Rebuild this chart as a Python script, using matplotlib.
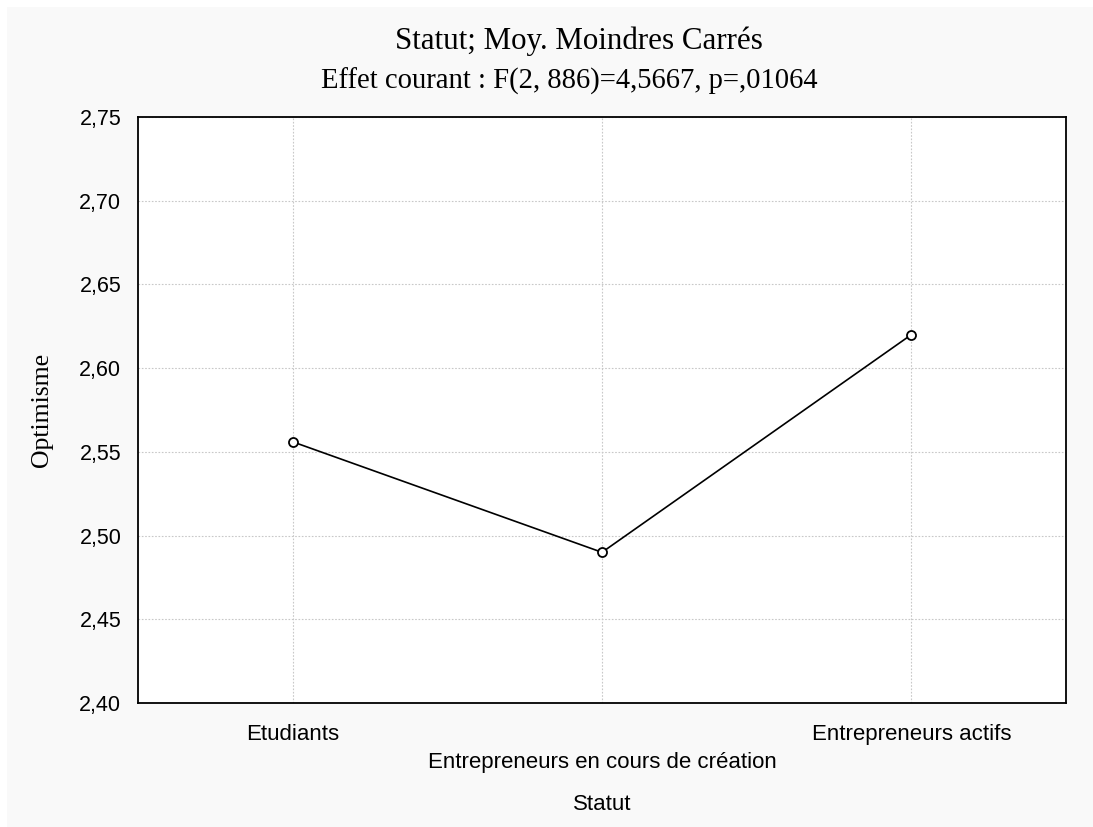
import matplotlib.pyplot as plt
from matplotlib.patches import Rectangle

# Données
categories = ['Etudiants', 'Entrepreneurs en cours de création', 'Entrepreneurs actifs']
moyennes = [2.556, 2.490, 2.620]
yticks = [2.40, 2.45, 2.50, 2.55, 2.60, 2.65, 2.70, 2.75]

fig = plt.figure(figsize=(10.93, 8.27), dpi=100, facecolor='white')
# fond gris clair avec une bordure blanche en haut et à gauche
fig.patches.append(Rectangle((7 / 1093, 0), 1, 1 - 7 / 827, transform=fig.transFigure,
                             facecolor='#f9f9f9', edgecolor='none', zorder=-10))

ax = fig.add_axes([138 / 1093, 1 - 703 / 827, (1066 - 138) / 1093, (703 - 117) / 827])
ax.set_facecolor('white')

x = list(range(len(categories)))
ax.plot(x, moyennes, color='black', lw=1.2, marker='o', ms=6.5,
        mfc='white', mec='black', mew=1.3, zorder=3)

ax.set_xlim(-0.5, 2.5)
ax.set_ylim(2.40, 2.75)
ax.set_yticks(yticks)
ax.set_yticklabels([f'{v:.2f}'.replace('.', ',') for v in yticks],
                   family='Liberation Sans', fontsize=15.5)
ax.set_xticks(x)
ax.set_xticklabels(categories, family='Liberation Sans', fontsize=16)
ax.tick_params(length=0, pad=15)
ax.tick_params(axis='y', pad=12)
# étiquette du milieu décalée vers le bas
mid = ax.get_xticklabels()[1]
mid.set_y(-0.048)

ax.grid(True, color='#c8c8c8', linestyle=(0, (1.5, 1.5)), lw=0.8)
for s in ax.spines.values():
    s.set_linewidth(1.3)
    s.set_color('black')

ax.set_ylabel('Optimisme', family='Liberation Serif', fontsize=18.5)
ax.yaxis.set_label_coords(-(138 - 42) / 928, 0.5)
ax.set_xlabel('Statut', family='Liberation Sans', fontsize=16)
ax.xaxis.set_label_coords(0.5, -(804 - 703) / 586)
ax.xaxis.label.set_va('center')
ax.yaxis.label.set_va('center')

fig.text(579 / 1093, 1 - 41 / 827, 'Statut; Moy. Moindres Carrés',
         family='Liberation Serif', fontsize=22.3, ha='center', va='center')
fig.text(569 / 1093, 1 - 81 / 827, 'Effet courant : F(2, 886)=4,5667, p=,01064',
         family='Liberation Serif', fontsize=20.6, ha='center', va='center')

fig.savefig('out.png', dpi=100, facecolor=fig.get_facecolor())
